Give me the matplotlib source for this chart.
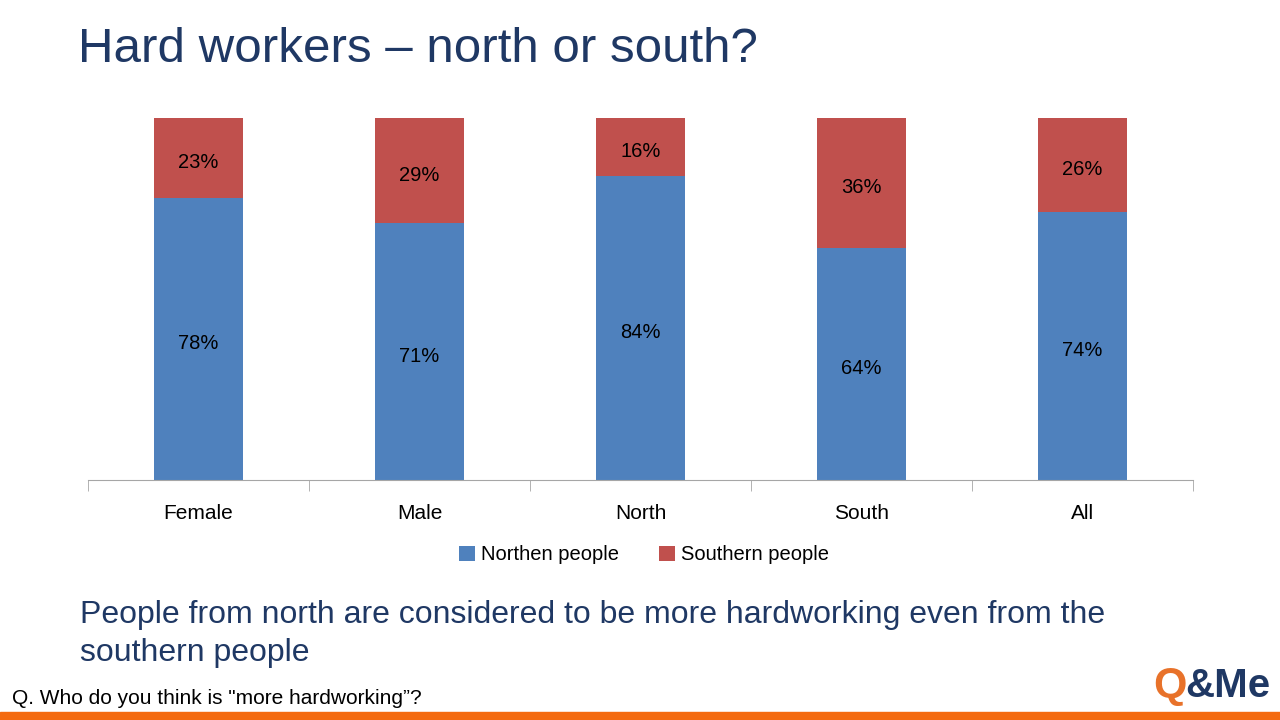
import numpy as np
from matplotlib import pyplot as plt

plt.rcParams['font.family'] = ['Liberation Sans', 'DejaVu Sans']

# data
categories = ['Female', 'Male', 'North', 'South', 'All']
northern = [78, 71, 84, 64, 74]
southern = [23, 29, 16, 36, 26]
series_names = ['Northen people', 'Southern people']

blue = '#4F81BD'
red = '#C0504D'
navy = '#1F3864'

fig = plt.figure(figsize=(12.8, 7.2), dpi=100)
ax = fig.add_axes([88/1280, 1-480/720, (1193-88)/1280, (480-118)/720])

x = np.arange(len(categories))
w = 0.4
b1 = ax.bar(x, northern, w, color=blue, label=series_names[0])
b2 = ax.bar(x, southern, w, bottom=northern, color=red, label=series_names[1])

# value labels centred in each segment (clipped to 100), nudged down a touch like the original
for i in range(len(categories)):
    top = min(northern[i] + southern[i], 100)
    ax.annotate(str(northern[i]) + '%', (x[i], northern[i]/2), xytext=(0, -2), textcoords='offset points',
                ha='center', va='center_baseline', fontsize=14.5)
    ax.annotate(str(southern[i]) + '%', (x[i], (northern[i] + top)/2), xytext=(0, -2), textcoords='offset points',
                ha='center', va='center_baseline', fontsize=14.5)

ax.set_xlim(-0.5, len(categories) - 0.5)
ax.set_ylim(0, 100)
for s in ['top', 'right', 'left']:
    ax.spines[s].set_visible(False)
ax.spines['bottom'].set_color('#A6A6A6')
ax.set_yticks([])
ax.set_xticks(x)
ax.set_xticklabels(categories, fontsize=15)
ax.tick_params(axis='x', which='major', length=0, pad=17)
ax.set_xticks(np.arange(-0.5, len(categories), 1), minor=True)
ax.tick_params(axis='x', which='minor', length=8, color='#A6A6A6', direction='out')

fig.legend(handles=[b1, b2], loc='center', bbox_to_anchor=(644/1280, 1-555/720), ncol=2,
           frameon=False, fontsize=14.5, handlelength=0.8, handleheight=0.8,
           handletextpad=0.3, columnspacing=2.0)

# slide texts
fig.text(78/1280, 1-50/720, 'Hard workers \u2013 north or south?', fontsize=35.5, color=navy, va='center')
fig.text(80/1280, 1-615/720, 'People from north are considered to be more hardworking even from the',
         fontsize=23, color=navy, va='center')
fig.text(80/1280, 1-653/720, 'southern people', fontsize=23, color=navy, va='center')
fig.text(12/1280, 1-699/720, 'Q. Who do you think is "more hardworking\u201d?', fontsize=15, color='black', va='center')

# orange footer bar
fig.patches.append(plt.Rectangle((0, 0), 1, 8/720, transform=fig.transFigure, color='#F46A0F', zorder=5))

# logo
fig.text(1153/1280, 1-686/720, 'Q', fontsize=31, color='#E8722A', fontweight='bold', va='center')
fig.text(1185/1280, 1-686/720, '&Me', fontsize=29, color='#1F3864', fontweight='bold', va='center')

fig.savefig('out.png', dpi=100)
